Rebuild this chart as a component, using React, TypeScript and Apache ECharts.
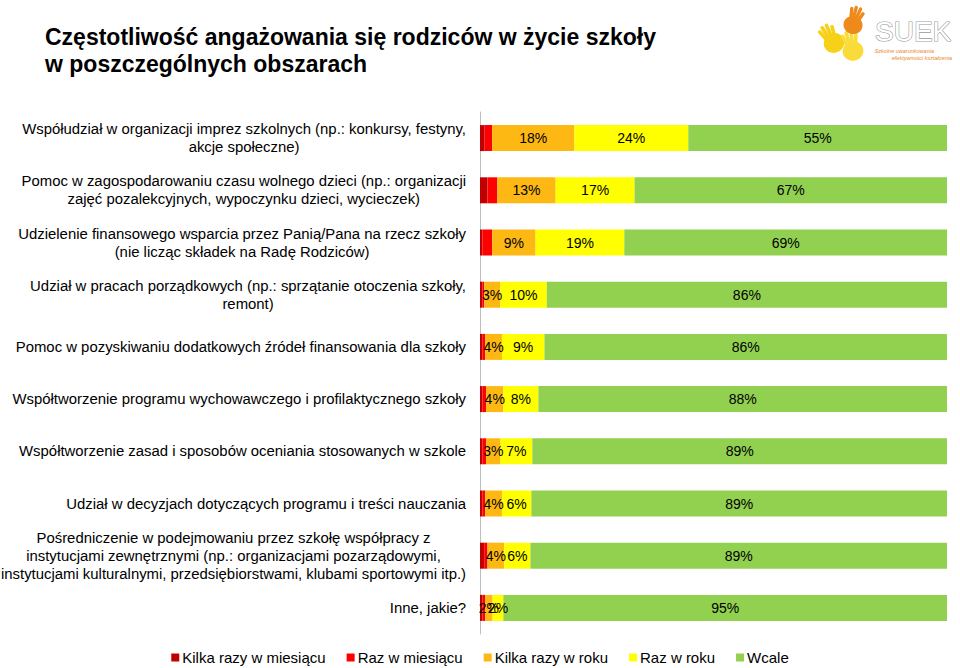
import React, { useEffect, useRef } from "react";
import * as echarts from "echarts";

const categories = [
  "Współudział w organizacji imprez szkolnych (np.: konkursy, festyny,\nakcje społeczne)",
  "Pomoc w zagospodarowaniu czasu wolnego dzieci (np.: organizacji\nzajęć pozalekcyjnych, wypoczynku dzieci, wycieczek)",
  "Udzielenie finansowego wsparcia przez Panią/Pana na rzecz szkoły\n(nie licząc składek na Radę Rodziców)",
  "Udział w pracach porządkowych (np.: sprzątanie otoczenia szkoły,\nremont)",
  "Pomoc w pozyskiwaniu dodatkowych źródeł finansowania dla szkoły",
  "Współtworzenie programu wychowawczego i profilaktycznego szkoły",
  "Współtworzenie zasad i sposobów oceniania stosowanych w szkole",
  "Udział w decyzjach dotyczących programu i treści nauczania",
  "Pośredniczenie w podejmowaniu przez szkołę współpracy z\ninstytucjami zewnętrznymi (np.: organizacjami pozarządowymi,\ninstytucjami kulturalnymi, przedsiębiorstwami, klubami sportowymi itp.)",
  "Inne, jakie?",
];

const seriesNames = [
  "Kilka razy w miesiącu",
  "Raz w miesiącu",
  "Kilka razy w roku",
  "Raz w roku",
  "Wcale",
];

const kilkaRazyWMiesiacu = [1.0, 1.6, 0.5, 0.5, 0.5, 0.5, 0.5, 0.5, 0.9, 0.5];
const razWMiesiacu = [1.6, 2.1, 2.1, 0.4, 0.6, 0.8, 0.8, 0.6, 0.7, 0.6];
const kilkaRazyWRoku = [17.6, 12.5, 9.3, 3.4, 3.6, 3.7, 3.1, 3.6, 3.6, 1.6];
const razWRoku = [24.4, 16.9, 19.0, 10.0, 9.1, 7.5, 6.8, 6.3, 5.6, 2.3];
const wcale = [55.4, 66.9, 69.1, 85.7, 86.2, 87.5, 88.8, 89.0, 89.2, 95.0];

const seriesData = [kilkaRazyWMiesiacu, razWMiesiacu, kilkaRazyWRoku, razWRoku, wcale];
const seriesColors = ["#C00000", "#FF0000", "#FDB813", "#FFFF00", "#92D050"];
const labelled = [false, false, true, true, true];

const FONT = "'Liberation Sans', Arial, sans-serif";

function hand(x: number, y: number, s: number, rot: number, color: string) {
  const fingers = [
    { x: -6, y: -14, r: 0.25 },
    { x: -2.5, y: -16, r: 0.08 },
    { x: 1.5, y: -16, r: -0.08 },
    { x: 5, y: -13, r: -0.25 },
  ];
  return {
    type: "group",
    x,
    y,
    rotation: rot,
    scaleX: s,
    scaleY: s,
    children: [
      { type: "ellipse", shape: { cx: 0, cy: 0, rx: 8, ry: 7.5 }, style: { fill: color } },
      ...fingers.map((f) => ({
        type: "rect",
        x: f.x,
        y: f.y,
        rotation: f.r,
        shape: { x: -1.4, y: 0, width: 2.8, height: 11, r: 1.4 },
        style: { fill: color },
      })),
      {
        type: "rect",
        x: 7,
        y: -1,
        rotation: -1.0,
        shape: { x: -1.4, y: 0, width: 2.8, height: 9, r: 1.4 },
        style: { fill: color },
      },
    ],
  };
}

export default function App() {
  const ref = useRef<HTMLDivElement>(null);

  useEffect(() => {
    if (!ref.current) return;
    const chart = echarts.init(ref.current, undefined, { renderer: "svg" });
    const option: any = {
      animation: false,
      backgroundColor: "#ffffff",
      title: {
        text: "Częstotliwość angażowania się rodziców w życie szkoły\nw poszczególnych obszarach",
        left: 45,
        top: 23,
        padding: 0,
        textStyle: {
          fontFamily: FONT,
          fontSize: 23,
          fontWeight: "bold",
          color: "#000000",
          lineHeight: 27,
        },
      },
      legend: {
        data: seriesNames,
        left: "center",
        top: 645,
        icon: "rect",
        itemWidth: 8,
        itemHeight: 8,
        itemGap: 21,
        textStyle: { fontFamily: FONT, fontSize: 15, color: "#000000", padding: [0, 0, 0, -2] },
      },
      grid: {
        left: 480,
        right: 13,
        top: 112,
        height: 522,
        containLabel: false,
        outerBoundsMode: "none",
      },
      xAxis: {
        type: "value",
        min: 0,
        max: 100,
        show: false,
      },
      yAxis: {
        type: "category",
        inverse: true,
        data: categories,
        axisLine: { show: true, lineStyle: { color: "#BFBFBF", width: 1 } },
        axisTick: { show: false },
        splitLine: { show: false },
        axisLabel: {
          margin: 14,
          interval: 0,
          formatter: (v: string) =>
            v
              .split("\n")
              .map((l) => `{c|${l}}`)
              .join("\n"),
          rich: {
            c: {
              align: "center",
              fontFamily: FONT,
              fontSize: 14.9,
              lineHeight: 18,
              color: "#000000",
            },
          },
        },
      },
      series: seriesNames.map((name, i) => ({
        name,
        type: "bar",
        stack: "total",
        barWidth: 26,
        data: seriesData[i],
        itemStyle: { color: seriesColors[i] },
        label: {
          show: labelled[i],
          position: "inside",
          color: "#000000",
          fontFamily: FONT,
          fontSize: 14,
          formatter: (p: any) => `${Math.round(p.value)}%`,
        },
      })),
      graphic: [
        hand(834, 43, 1.3, 0.5, "#F7D117"),
        hand(853, 51, 1.3, 0.2, "#F9DB3A"),
        hand(853, 25, 1.2, -0.35, "#EE8A1C"),
        {
          type: "text",
          x: 875,
          y: 17,
          style: {
            text: "SUEK",
            fontFamily: FONT,
            fontSize: 28,
            fill: "#ffffff",
            stroke: "#9a9a9a",
            lineWidth: 1.2,
          },
        },
        {
          type: "text",
          x: 934,
          y: 48,
          style: { text: "Szkolne uwarunkowania", align: "right", fontFamily: FONT, fontSize: 5.5, fontStyle: "italic", fill: "#E8892A" },
        },
        {
          type: "text",
          x: 952,
          y: 55,
          style: { text: "efektywności kształcenia", align: "right", fontFamily: FONT, fontSize: 5.5, fontStyle: "italic", fill: "#E8892A" },
        },
      ],
    };
    chart.setOption(option);
    return () => chart.dispose();
  }, []);

  return (
    <div
      ref={ref}
      style={{ position: "absolute", left: 0, top: 0, width: 960, height: 668 }}
    />
  );
}
